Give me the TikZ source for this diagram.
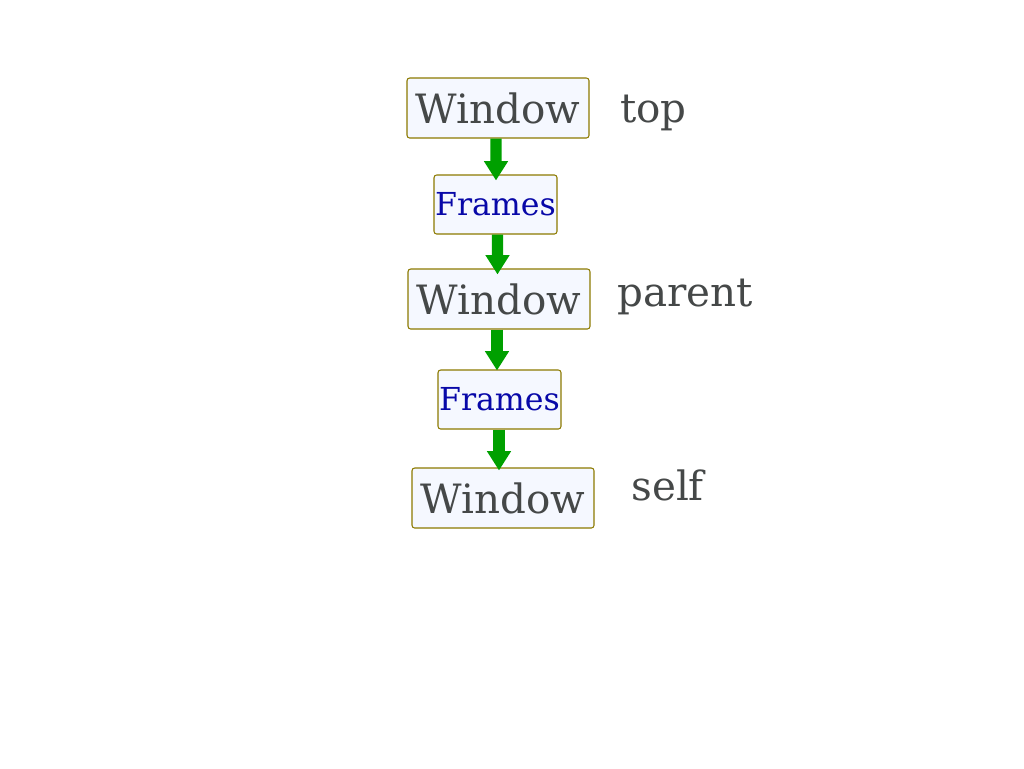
\documentclass[tikz,border=0pt]{standalone}
\usepackage{fontspec}
\setmainfont{DejaVu Serif}
\usetikzlibrary{arrows.meta,calc}
\definecolor{boxfill}{HTML}{F5F8FF}
\definecolor{boxline}{HTML}{8C7A00}
\definecolor{wintext}{HTML}{454848}
\definecolor{frmtext}{HTML}{0808A8}
\definecolor{arrgreen}{HTML}{00A000}
\tikzset{
  win/.style={draw=boxline,line width=0.6pt,fill=boxfill,rounded corners=1.5pt,
    inner sep=0pt,minimum width=3.64cm,minimum height=1.2cm,text=wintext,
    font=\fontsize{23}{23}\selectfont},
  frm/.style={win,minimum width=2.46cm,minimum height=1.18cm,text=frmtext,
    font=\fontsize{18}{18}\selectfont},
  lbl/.style={anchor=base west,inner sep=0pt,text=wintext,
    font=\fontsize{23}{23}\selectfont},
  down/.style={draw=arrgreen,line width=6.4pt,
    -{Triangle[length=11pt,width=13pt]}}
}
\begin{document}
\begin{tikzpicture}[x=0.02cm,y=-0.02cm]
\useasboundingbox (0,0) rectangle (1024,768);
\node[win] (top) at (498,108) {Window};
\node[frm] (frm1) at (495.5,204.5) {Frames};
\node[win] (parent) at (499,299) {Window};
\node[frm] (frm2) at (499.5,399.5) {Frames};
\node[win] (self) at (503,498) {Window};
\node[lbl] (toplbl) at (620,122) {top};
\node[lbl] (parentlbl) at (617,306) {parent};
\node[lbl] (selflbl) at (631,500) {self};
% arrows
\draw[down] ($(top.south)+(-2,0)$) -- ($(frm1.north)+(0.5,6)$);
\draw[down] ($(frm1.south)+(2,0)$) -- ($(parent.north)+(-1.5,6)$);
\draw[down] ($(parent.south)+(-2,0)$) -- ($(frm2.north)+(-2.5,1)$);
\draw[down] ($(frm2.south)+(-0.5,0)$) -- ($(self.north)+(-4,3)$);
\end{tikzpicture}
\end{document}
